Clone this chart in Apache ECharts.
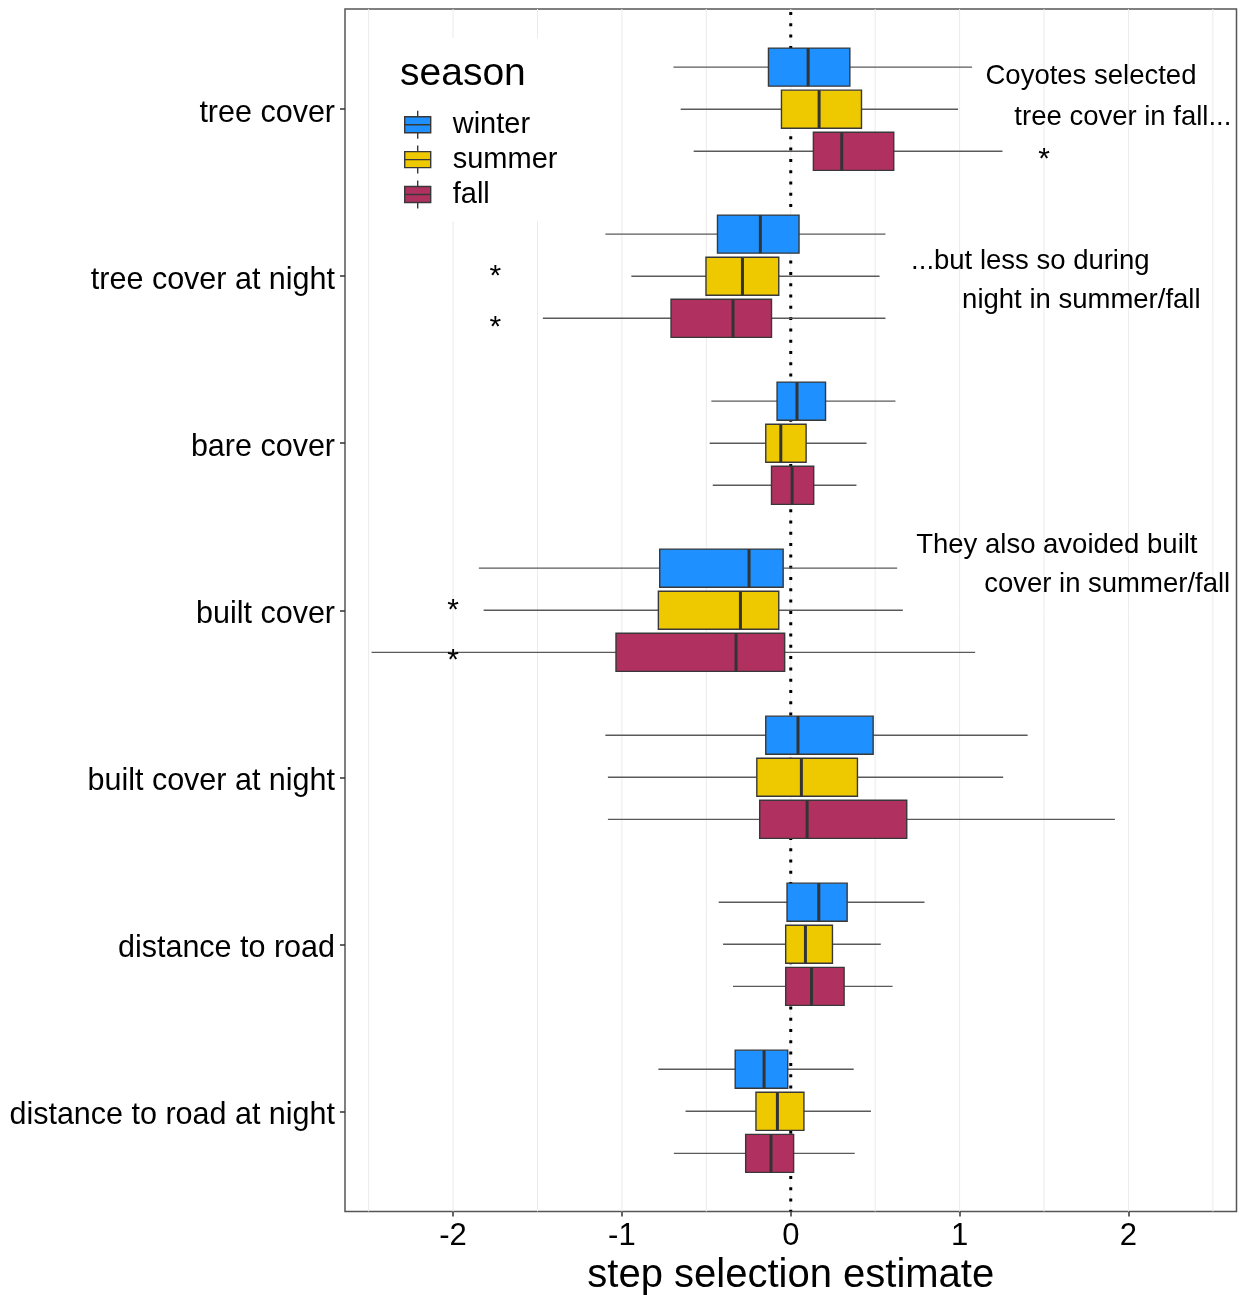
<!DOCTYPE html>
<html>
<head>
<meta charset="utf-8">
<script src="https://cdn.jsdelivr.net/npm/echarts@6/dist/echarts.min.js"></script>
<style>
  html, body { margin: 0; padding: 0; background: #fff; }
  #chart { width: 1244px; height: 1295px; }
</style>
</head>
<body>
<div id="chart"></div>
<script>
// ---------------- DATA ----------------
const categories = ['tree cover', 'tree cover at night', 'bare cover', 'built cover',
  'built cover at night', 'distance to road', 'distance to road at night'];
const seasons = ['winter', 'summer', 'fall'];
const seasonColors = ['#1E90FF', '#EEC900', '#B03060'];

// [lower whisker, q1, median, q3, upper whisker] per category
const winterStats = [
  [-0.695, -0.132, 0.103, 0.350, 1.074],
  [-1.098, -0.434, -0.180, 0.049, 0.561],
  [-0.470, -0.081, 0.037, 0.206, 0.620],
  [-1.847, -0.776, -0.247, -0.045, 0.630],
  [-1.098, -0.148, 0.043, 0.488, 1.403],
  [-0.427, -0.022, 0.166, 0.334, 0.792],
  [-0.784, -0.329, -0.158, -0.018, 0.373]
];
const summerStats = [
  [-0.652, -0.055, 0.168, 0.419, 0.991],
  [-0.944, -0.502, -0.286, -0.071, 0.526],
  [-0.480, -0.148, -0.059, 0.091, 0.449],
  [-1.819, -0.784, -0.298, -0.071, 0.664],
  [-1.083, -0.201, 0.063, 0.395, 1.258],
  [-0.401, -0.030, 0.087, 0.247, 0.533],
  [-0.623, -0.206, -0.079, 0.078, 0.475]
];
const fallStats = [
  [-0.575, 0.134, 0.302, 0.610, 1.254],
  [-1.468, -0.709, -0.342, -0.114, 0.561],
  [-0.462, -0.114, 0.008, 0.136, 0.389],
  [-2.483, -1.035, -0.324, -0.036, 1.092],
  [-1.083, -0.184, 0.097, 0.687, 1.920],
  [-0.342, -0.030, 0.123, 0.316, 0.603],
  [-0.692, -0.267, -0.117, 0.017, 0.379]
];

const xTickValues = [-2, -1, 0, 1, 2];
const gridValues = [-2.5, -2, -1.5, -1, -0.5, 0, 0.5, 1, 1.5, 2, 2.5];
const yTickValues = [0, 1, 2, 3, 4, 5, 6];

// significance stars (x value, y position in category units)
const starX = [1.5, -1.75, -1.75, -2.0, -2.0];
const starY = [0.269, 0.968, 1.274, 2.965, 3.265];

// annotations
const annotationTexts = ['Coyotes selected', 'tree cover in fall...', '...but less so during',
  'night in summer/fall', 'They also avoided built', 'cover in summer/fall'];
const annotationX = [1.778, 1.967, 1.419, 1.721, 1.576, 1.874];
const annotationY = [-0.211, 0.039, 0.898, 1.130, 2.598, 2.831];

// ---------------- LAYOUT / STYLE ----------------
const FONT = "'Liberation Sans', Arial, sans-serif";
const seasonOffsets = [-0.252, 0, 0.252];
const boxHalf = 0.114;
const yMin = -0.6, yMax = 6.6;

function boxSeries(si, stats) {
  return {
    type: 'custom',
    name: seasons[si],
    z: 3,
    itemStyle: { color: seasonColors[si] },
    data: stats.map((s, i) => [i].concat(s)),
    encode: { y: 0, x: [1, 2, 3, 4, 5] },
    renderItem: function (params, api) {
      const c = api.value(0) + seasonOffsets[si];
      const mn = api.value(1), q1 = api.value(2), md = api.value(3), q3 = api.value(4), mx = api.value(5);
      const pMin = api.coord([mn, c]);
      const pQ1 = api.coord([q1, c]);
      const pMd = api.coord([md, c]);
      const pQ3 = api.coord([q3, c]);
      const pMax = api.coord([mx, c]);
      const yA = api.coord([q1, c - boxHalf])[1];
      const yB = api.coord([q1, c + boxHalf])[1];
      const top = Math.min(yA, yB), h = Math.abs(yB - yA);
      return {
        type: 'group',
        children: [
          { type: 'line', shape: { x1: pMin[0], y1: pMin[1], x2: pQ1[0], y2: pQ1[1] },
            style: { stroke: '#5a5a5a', lineWidth: 1.4 } },
          { type: 'line', shape: { x1: pQ3[0], y1: pQ3[1], x2: pMax[0], y2: pMax[1] },
            style: { stroke: '#5a5a5a', lineWidth: 1.4 } },
          { type: 'rect', shape: { x: pQ1[0], y: top, width: pQ3[0] - pQ1[0], height: h },
            style: { fill: seasonColors[si], stroke: '#383838', lineWidth: 1.4 } },
          { type: 'line', shape: { x1: pMd[0], y1: top, x2: pMd[0], y2: top + h },
            style: { stroke: '#333333', lineWidth: 3 } }
        ]
      };
    }
  };
}

const chart = echarts.init(document.getElementById('chart'), null, { renderer: 'canvas' });

const option = {
  backgroundColor: '#ffffff',
  animation: false,
  color: seasonColors,
  textStyle: { fontFamily: FONT },
  tooltip: { show: false },
  title: {
    text: 'season',
    left: 400,
    top: 54,
    padding: 0,
    textStyle: { fontSize: 39, fontWeight: 'normal', color: '#000', fontFamily: FONT, lineHeight: 40 }
  },
  legend: {
    data: seasons,
    orient: 'vertical',
    left: 385,
    top: 38,
    padding: [72, 40, 12, 19],
    backgroundColor: '#ffffff',
    itemWidth: 26,
    itemHeight: 28,
    itemGap: 5.5,
    selectedMode: false,
    icon: 'path://M13,0L13,6M0,6L26,6L26,22L0,22ZM0,14L26,14M13,22L13,28',
    itemStyle: { borderColor: '#383838', borderWidth: 1.4 },
    textStyle: { fontSize: 29, color: '#000', fontFamily: FONT, lineHeight: 24, padding: [4, 0, 0, 17] }
  },
  grid: {
    left: 345, right: 7.5, top: 9, bottom: 83.5,
    outerBoundsMode: 'none',
    containLabel: false,
    show: true, borderColor: '#555555', borderWidth: 1.5, backgroundColor: 'transparent'
  },
  xAxis: {
    type: 'value',
    min: -2.64, max: 2.64,
    position: 'bottom',
    splitLine: { show: false },
    axisLine: { show: false, onZero: false },
    axisPointer: { show: false },
    axisTick: { show: true, customValues: xTickValues, length: 5, lineStyle: { color: '#333', width: 1.5 } },
    axisLabel: { customValues: xTickValues, fontSize: 31, color: '#000', margin: 9, fontFamily: FONT,
      formatter: v => String(v) },
    name: 'step selection estimate',
    nameLocation: 'middle',
    nameGap: 41,
    nameTextStyle: { fontSize: 40, color: '#000', fontFamily: FONT }
  },
  yAxis: {
    type: 'value',
    inverse: true,
    min: yMin, max: yMax,
    position: 'left',
    splitLine: { show: false },
    axisLine: { show: false, onZero: false },
    axisPointer: { show: false },
    axisTick: { show: true, customValues: yTickValues, length: 5, lineStyle: { color: '#333', width: 1.5 } },
    axisLabel: { customValues: yTickValues, fontSize: 30.5, color: '#000', margin: 10, fontFamily: FONT,
      verticalAlign: 'top', lineHeight: 8,
      formatter: v => categories[Math.round(v)] }
  },
  series: [
    {
      type: 'custom', z: 1, silent: true,
      itemStyle: { color: '#EBEBEB' },
      data: gridValues.map(v => [v, yMin]),
      encode: { x: 0, y: 1 },
      renderItem: function (params, api) {
        const v = api.value(0);
        const p1 = api.coord([v, yMin]);
        const p2 = api.coord([v, yMax]);
        return { type: 'line', shape: { x1: p1[0], y1: p1[1], x2: p2[0], y2: p2[1] },
          style: { stroke: '#EBEBEB', lineWidth: 1 } };
      }
    },
    {
      type: 'custom', z: 2, silent: true,
      itemStyle: { color: '#000' },
      data: [[0, yMin]],
      encode: { x: 0, y: 1 },
      renderItem: function (params, api) {
        const v = api.value(0);
        const p1 = api.coord([v, yMin]);
        const p2 = api.coord([v, yMax]);
        return { type: 'line', shape: { x1: p1[0], y1: p1[1] + 3, x2: p2[0], y2: p2[1] },
          style: { stroke: '#000', lineWidth: 3, lineDash: [3, 8.3] } };
      }
    },
    boxSeries(0, winterStats),
    boxSeries(1, summerStats),
    boxSeries(2, fallStats),
    {
      type: 'custom', z: 5, silent: true,
      itemStyle: { color: '#000' },
      data: starX.map((x, i) => [x, starY[i]]),
      encode: { x: 0, y: 1 },
      renderItem: function (params, api) {
        const p = api.coord([api.value(0), api.value(1)]);
        return { type: 'text', x: p[0], y: p[1] + 6,
          style: { text: '*', fontSize: 30, fontFamily: FONT, fill: '#000', align: 'center', verticalAlign: 'middle' } };
      }
    },
    {
      type: 'custom', z: 5, silent: true,
      itemStyle: { color: '#000' },
      data: annotationX.map((x, i) => [x, annotationY[i]]),
      encode: { x: 0, y: 1 },
      renderItem: function (params, api) {
        const p = api.coord([api.value(0), api.value(1)]);
        return { type: 'text', x: p[0], y: p[1] + 2,
          style: { text: annotationTexts[params.dataIndex], fontSize: 27.5, fontFamily: FONT, fill: '#000',
            align: 'center', verticalAlign: 'middle' } };
      }
    }
  ]
};

chart.setOption(option);
</script>
</body>
</html>
